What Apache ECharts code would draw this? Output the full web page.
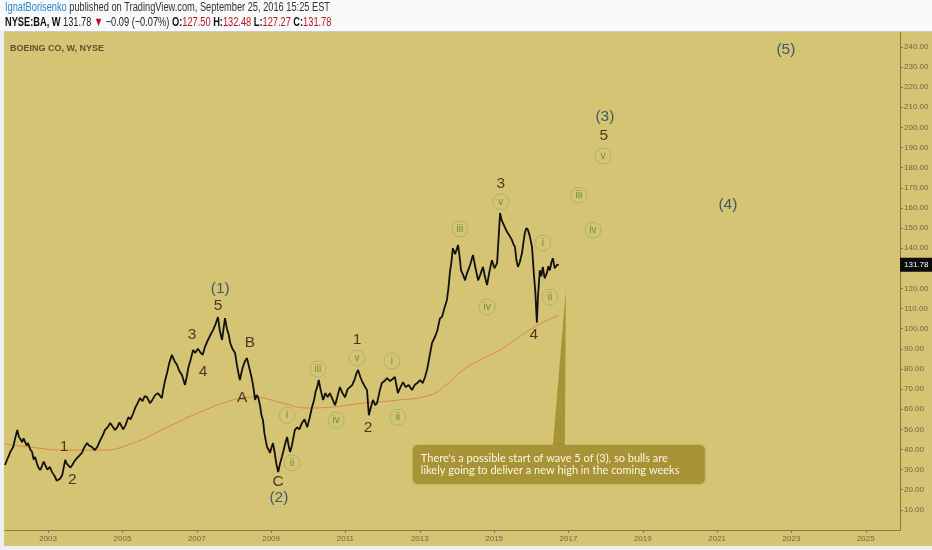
<!DOCTYPE html>
<html><head><meta charset="utf-8">
<script src="https://cdn.jsdelivr.net/npm/echarts@6/dist/echarts.min.js"></script>
<style>html,body{margin:0;padding:0;background:#f7f8f9}#c{width:932px;height:550px}</style>
</head><body><div id="c"></div>
<script>
// ---- data ----
const priceData = [
[2001.84,32.3],[2001.92,36],[2001.98,38.7],[2002.06,41.2],[2002.12,46],[2002.17,49.7],[2002.21,46.5],[2002.25,47.2],[2002.30,43.7],[2002.34,45.5],
[2002.38,44.7],[2002.42,42],[2002.46,43.2],[2002.52,40],[2002.57,38.7],[2002.61,35],[2002.65,36.3],[2002.70,33],[2002.74,31],[2002.79,29.8],
[2002.84,32],[2002.88,34],[2002.92,33.3],[2002.98,30],[2003.05,31.3],[2003.10,29],[2003.15,27.5],[2003.19,26.3],[2003.23,24.5],[2003.27,24.8],
[2003.32,25.5],[2003.38,27.3],[2003.42,31],[2003.46,34.8],[2003.50,33],[2003.54,33.8],[2003.60,31],[2003.65,32.3],[2003.70,34],[2003.74,33.5],
[2003.78,35.8],[2003.84,37],[2003.91,38.3],[2003.97,41],[2004.05,43.2],[2004.10,42],[2004.18,41.2],[2004.26,39.7],[2004.33,41.5],[2004.40,44.5],
[2004.47,47],[2004.53,49.7],[2004.60,51],[2004.67,53.2],[2004.73,51.5],[2004.80,49.7],[2004.86,51],[2004.92,53.5],[2005.02,50],[2005.08,52],
[2005.16,56],[2005.22,55],[2005.29,58],[2005.35,61],[2005.41,63],[2005.47,65.5],[2005.54,64],[2005.60,66.5],[2005.66,66],[2005.74,63],
[2005.80,64.5],[2005.88,67],[2005.95,68],[2006.02,66.5],[2006.06,65.5],[2006.10,70],[2006.15,74.5],[2006.20,78],[2006.26,83],[2006.33,87],
[2006.40,84],[2006.47,82],[2006.53,79],[2006.60,77],[2006.65,74],[2006.68,72],[2006.73,76],[2006.77,80.5],[2006.84,85],[2006.90,89.4],
[2006.96,88],[2007.03,90],[2007.09,88.4],[2007.16,87],[2007.22,91],[2007.30,94.4],[2007.37,97],[2007.44,99.4],[2007.50,102],[2007.57,105.8],
[2007.62,99],[2007.68,94.4],[2007.72,100],[2007.76,105.3],[2007.81,100],[2007.86,97],[2007.90,92.9],[2007.96,90],[2008.03,87.9],[2008.08,82],
[2008.12,78],[2008.16,74.5],[2008.20,78],[2008.24,81],[2008.30,84],[2008.35,85.4],[2008.42,80],[2008.49,74.5],[2008.53,70],[2008.57,64.6],
[2008.61,67],[2008.65,66],[2008.70,62],[2008.74,57],[2008.78,54.6],[2008.82,48],[2008.86,44],[2008.89,41.2],[2008.93,40],[2008.97,38.3],
[2009.01,41],[2009.05,43.2],[2009.10,38],[2009.14,33],[2009.19,28.8],[2009.24,33],[2009.29,36.3],[2009.34,40],[2009.38,43],[2009.43,46.2],
[2009.47,42],[2009.51,38.7],[2009.56,42],[2009.60,46],[2009.64,49.7],[2009.70,51],[2009.76,50],[2009.83,53.2],[2009.90,55],[2009.97,51],
[2010.04,56],[2010.10,61],[2010.16,65],[2010.20,69],[2010.24,71],[2010.28,74.5],[2010.34,69],[2010.40,64.6],[2010.46,68],[2010.52,66],
[2010.58,68],[2010.65,65],[2010.72,62],[2010.78,66],[2010.85,71],[2010.92,68],[2010.99,66],[2011.06,70],[2011.12,71],[2011.18,72],
[2011.25,75],[2011.30,78],[2011.34,79.5],[2011.40,76],[2011.47,73],[2011.53,71],[2011.58,69.5],[2011.61,62],[2011.63,57],[2011.67,60],
[2011.70,62],[2011.74,64.6],[2011.80,62],[2011.85,63],[2011.92,69],[2011.98,73],[2012.05,74],[2012.12,75.5],[2012.20,74],[2012.27,75],
[2012.33,76],[2012.37,72],[2012.41,68],[2012.48,71],[2012.55,73.5],[2012.62,71],[2012.70,72],[2012.79,69.5],[2012.86,72],[2012.93,73],
[2013.01,74.5],[2013.08,73],[2013.14,76],[2013.20,80],[2013.27,87],[2013.33,93],[2013.41,96],[2013.47,99],[2013.54,105],[2013.60,106],
[2013.66,110],[2013.73,114.3],[2013.77,120],[2013.81,128],[2013.85,133],[2013.89,140],[2013.95,137],[2014.03,141.6],[2014.07,136],[2014.11,129],
[2014.16,127],[2014.22,124],[2014.26,127],[2014.30,129],[2014.36,132],[2014.43,136.6],[2014.50,130],[2014.57,124],[2014.63,127],[2014.70,130.7],
[2014.75,126],[2014.81,121.7],[2014.87,128],[2014.94,134],[2015.01,130],[2015.08,132.6],[2015.12,145],[2015.16,157.5],[2015.20,154],[2015.24,152.5],
[2015.30,150],[2015.35,148],[2015.42,146],[2015.48,144],[2015.52,142],[2015.56,140.6],[2015.60,134],[2015.64,130.7],[2015.69,133],[2015.75,137.6],
[2015.79,143],[2015.83,148],[2015.87,150],[2015.91,149],[2015.96,146],[2016.02,140.6],[2016.07,127],[2016.11,118],[2016.13,110],[2016.15,103],
[2016.18,116],[2016.23,129],[2016.27,126],[2016.31,130.7],[2016.36,125],[2016.42,127.7],[2016.46,131],[2016.50,129],[2016.54,133],[2016.58,135],
[2016.63,130],[2016.69,131.7],[2016.74,131.78]
];
const maData = [
[2001.84,42.7],[2002.6,41],[2003.4,39.7],[2004.4,39.7],[2005.29,43.2],[2006.2,51],[2007.09,58.6],[2007.98,64.6],[2008.51,66],[2009.32,63],
[2009.97,60.6],[2010.58,61],[2011.47,63],[2012.4,64.5],[2013.27,67],[2013.7,72],[2014.16,79.5],[2014.62,84.5],[2015.16,89.4],[2015.6,95],
[2016.04,100.3],[2016.4,104],[2016.74,106.5]
];
const brownLabels = [
[2003.43,41.2,'1'],[2003.65,24.8,'2'],[2006.87,96.9,'3'],[2007.17,78.5,'4'],[2007.57,111.3,'5'],[2008.43,92.9,'B'],[2008.22,65.6,'A'],
[2009.19,23.8,'C'],[2011.31,94.4,'1'],[2011.61,50.7,'2'],[2015.18,171.9,'3'],[2016.07,96.9,'4'],[2017.95,195.7,'5']
];
const blueLabels = [
[2007.63,119.7,'(1)'],[2009.21,15.9,'(2)'],[2017.98,205.2,'(3)'],[2021.29,161.5,'(4)'],[2022.85,238.5,'(5)']
];
const circleLabels = [
[2009.43,57,'i'],[2009.56,33.3,'ii'],[2010.26,80,'iii'],[2010.75,54.6,'iv'],[2011.31,85.4,'v'],[2012.25,84,'i'],[2012.41,56,'ii'],
[2014.08,149.5,'iii'],[2014.81,110.8,'iv'],[2015.18,163,'v'],[2016.31,142.6,'i'],[2016.50,115.7,'ii'],[2017.28,166.4,'iii'],[2017.66,149,'iv'],[2017.93,185.8,'v']
];
const xTickYears = [2003,2005,2007,2009,2011,2013,2015,2017,2019,2021,2023,2025];
const yTickValues = [10,20,30,40,50,60,70,80,90,100,110,120,130,140,150,160,170,180,190,200,210,220,230,240];
const lastClose = 131.78;
const calloutTip = [2016.93, 119.2];
const calloutText = "There's a possible start of wave 5 of (3), so bulls are\nlikely going to deliver a new high in the coming weeks";

// ---- chart ----
const BG = '#d5c473';
const chart = echarts.init(document.getElementById('c'));
const hdrFont = "'Liberation Sans',Arial,sans-serif";
const lblFont = "'Liberation Sans',Arial,sans-serif";

function textScatter(data, color, size, z) {
  return {
    type: 'scatter', data: data, symbolSize: 1, itemStyle: {color: 'rgba(0,0,0,0)'}, z: z, silent: true,
    label: {show: true, position: 'inside', formatter: p => p.data[2], color: color, fontSize: size, fontFamily: lblFont}
  };
}

chart.setOption({
  backgroundColor: BG,
  animation: false,
  title: [
    {left: 10, top: 44, padding: 0, text: 'BOEING CO, W, NYSE', textStyle: {color: '#5e5230', fontSize: 9, fontWeight: 'bold', fontFamily: lblFont}}
  ],
  grid: {left: 5, right: 32, top: 32, bottom: 20, show: false},
  xAxis: {
    type: 'value', min: 2001.84, max: 2025.92,
    axisLine: {show: true, lineStyle: {color: '#8a7a3c', width: 1}},
    axisTick: {show: true, length: 3, lineStyle: {color: '#8a7a3c'}, customValues: xTickYears},
    axisLabel: {color: '#6e6548', fontSize: 8, fontFamily: lblFont, margin: 5, customValues: xTickYears, formatter: v => String(v)},
    splitLine: {show: false}
  },
  yAxis: {
    type: 'value', position: 'right', min: 0, max: 247.4,
    axisLine: {show: true, lineStyle: {color: '#8a7a3c', width: 1}},
    axisTick: {show: true, length: 3, lineStyle: {color: '#8a7a3c'}, customValues: yTickValues},
    axisLabel: {color: '#6e6548', fontSize: 8, fontFamily: lblFont, margin: 4, customValues: yTickValues, formatter: v => v.toFixed(2)},
    splitLine: {show: false}
  },
  series: [
    {type: 'line', data: maData, smooth: true, showSymbol: false, lineStyle: {color: '#e0844c', width: 1}, z: 2, silent: true},
    {type: 'line', data: priceData, showSymbol: false, lineStyle: {color: '#111', width: 1.8}, z: 3, silent: true,
     markLine: {silent: true, symbol: 'none', data: [{yAxis: lastClose}], lineStyle: {color: 'rgba(0,0,0,0)', width: 0},
       label: {show: true, position: 'end', distance: 0, formatter: lastClose.toFixed(2), color: '#fff', backgroundColor: '#0a0a0a',
               fontSize: 8, fontFamily: lblFont, padding: [3, 4]}}},
    textScatter(brownLabels, '#22170a', 15.5, 4),
    textScatter(blueLabels, '#173f6c', 15.5, 4),
    {type: 'scatter', data: circleLabels, symbol: 'circle', symbolSize: 16, z: 4, silent: true,
     itemStyle: {color: 'rgba(0,0,0,0)', borderColor: '#a9ae62', borderWidth: 1},
     label: {show: true, position: 'inside', formatter: p => p.data[2], color: '#4a8a14', fontSize: 10, fontFamily: lblFont}}
  ]
});

const tip = chart.convertToPixel({gridIndex: 0}, calloutTip);
const boxX = tip[0] - 153, boxY = tip[1] + 155;
const hdrRich = {
  a: {fill: '#2a86c8', fontSize: 12.5, fontFamily: hdrFont},
  b: {fill: '#333', fontSize: 12.5, fontFamily: hdrFont},
  k: {fill: '#111', fontSize: 12.5, fontWeight: 'bold', fontFamily: hdrFont},
  n: {fill: '#222', fontSize: 12.5, fontFamily: hdrFont},
  r: {fill: '#b3171f', fontSize: 12.5, fontFamily: hdrFont}
};
chart.setOption({
  graphic: [
    {type: 'rect', shape: {x: 0, y: 0, width: 932, height: 31}, style: {fill: '#f8f9fa'}, z: 1},
    {type: 'line', shape: {x1: 0, y1: 31.5, x2: 932, y2: 31.5}, style: {stroke: '#c9c9c9', lineWidth: 1}, z: 1},
    {type: 'text', x: 5, y: 1, scaleX: 0.74, z: 2,
     style: {text: '{a|IgnatBorisenko} {b|published on TradingView.com, September 25, 2016 15:25 EST}', rich: hdrRich, fontSize: 12.5}},
    {type: 'text', x: 5, y: 16, scaleX: 0.74, z: 2,
     style: {text: '{k|NYSE:BA, W} {n|131.78} {r|▼} {n|−0.09 (−0.07%)} {k|O:}{r|127.50} {k|H:}{r|132.48} {k|L:}{r|127.27} {k|C:}{r|131.78}', rich: hdrRich, fontSize: 12.5}},
    {type: 'rect', shape: {x: 0, y: 546, width: 932, height: 4}, style: {fill: '#eceef0'}, z: 1},
    {type: 'rect', shape: {x: 0, y: 31, width: 4, height: 515}, style: {fill: '#eceef0'}, z: 1},
    {type: 'polygon', shape: {points: [[tip[0], tip[1]], [tip[0] - 13, boxY + 1], [tip[0] - 1, boxY + 1]]}, style: {fill: '#a89437'}, z: 5},
    {type: 'rect', shape: {x: boxX, y: boxY, width: 292, height: 39, r: 5}, style: {fill: '#a89437', shadowBlur: 3, shadowColor: 'rgba(0,0,0,0.15)'}, z: 5},
    {type: 'text', x: boxX + 8, y: boxY + 7, style: {text: calloutText, fill: '#fbf6e0', fontSize: 11, lineHeight: 12.5, fontFamily: "Lato,'Open Sans',sans-serif"}, z: 6}
  ]
});
</script></body></html>
